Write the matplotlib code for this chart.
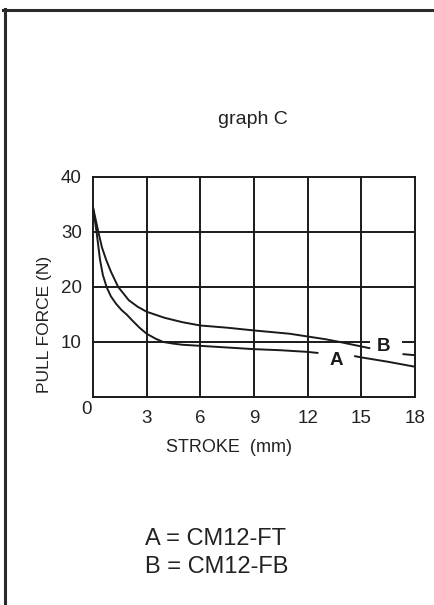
import matplotlib.pyplot as plt
from matplotlib.lines import Line2D

plt.rcParams["font.family"] = ["Liberation Sans", "DejaVu Sans"]

# Curve A (CM12-FT); split where the "A" label sits
stroke_a1 = [0, 0.2, 0.39, 0.55, 0.76, 1.0, 1.3, 1.6, 1.88, 2.2, 2.6, 3.0, 3.5, 3.93, 4.5, 5.0, 6.0, 7.5, 9.0, 10.5, 12.0, 12.6]
force_a1 = [34.5, 30, 25, 22.2, 20, 18.3, 16.9, 15.8, 15.0, 13.9, 12.6, 11.5, 10.6, 10.0, 9.7, 9.5, 9.3, 9.0, 8.7, 8.5, 8.2, 8.0]
stroke_a2 = [14.6, 15.0, 16.5, 18.0]
force_a2 = [7.45, 7.2, 6.4, 5.5]

# Curve B (CM12-FB); split where the "B" label sits
stroke_b1 = [0, 0.3, 0.5, 0.73, 1.0, 1.41, 2.0, 2.5, 3.0, 4.0, 5.0, 6.0, 7.5, 9.0, 10.0, 11.0, 12.0, 13.0, 13.8, 15.5]
force_b1 = [34.5, 30, 27.2, 25, 22.8, 20, 17.6, 16.4, 15.5, 14.4, 13.6, 13.0, 12.6, 12.1, 11.8, 11.5, 11.0, 10.5, 10.0, 8.85]
stroke_b2 = [17.3, 18.0]
force_b2 = [7.8, 7.6]

x_ticks = [3, 6, 9, 12, 15, 18]
y_ticks = [10, 20, 30, 40]
legend_lines = ["A = CM12-FT", "B = CM12-FB"]

W, H = 435, 605
fig = plt.figure(figsize=(W / 100, H / 100), dpi=100)
fig.patch.set_facecolor("white")

ax = fig.add_axes([93 / W, 1 - 397 / H, 322 / W, 220 / H])
ax.set_xlim(0, 18)
ax.set_ylim(0, 40)

lc = "#1a1a1a"
tc = "#222222"
lw = 1.4
# grid drawn by hand, the 10 N line is broken for the B label
ax.vlines(x_ticks[:-1], 0, 40, color=lc, lw=lw, zorder=1)
ax.hlines([20, 30], 0, 18, color=lc, lw=lw, zorder=1)
ax.hlines(10, 0, 15.5, color=lc, lw=lw, zorder=1)
ax.hlines(10, 17.3, 18, color=lc, lw=lw, zorder=1)

for xs, ys in [(stroke_a1, force_a1), (stroke_a2, force_a2),
               (stroke_b1, force_b1), (stroke_b2, force_b2)]:
    ax.plot(xs, ys, color=lc, lw=lw, solid_capstyle="butt", zorder=2)

ax.text(13.6, 6.7, "A", fontsize=13.5, fontweight="bold", ha="center", va="center", color=lc)
ax.text(16.25, 9.1, "B", fontsize=13.5, fontweight="bold", ha="center", va="center", color=lc)

for s in ax.spines.values():
    s.set_color(lc)
    s.set_linewidth(lw)

ax.set_xticks(x_ticks)
ax.set_xticklabels([str(v) for v in x_ticks])
ax.set_yticks(y_ticks)
ax.set_yticklabels([str(v) for v in y_ticks])
ax.tick_params(axis="both", length=0, labelsize=13.5, colors=tc)
ax.tick_params(axis="x", pad=9.5)
ax.tick_params(axis="y", pad=8)

# origin label sits off the corner
fig.text(87 / W, 1 - 409 / H, "0", fontsize=13.5, ha="center", va="center", color=tc)

fig.text(253 / W, 1 - 120 / H, "graph C", fontsize=14, ha="center", va="center", color=tc)
fig.text(229 / W, 1 - 447 / H, "STROKE  (mm)", fontsize=13, ha="center", va="center", color=tc)
fig.text(45 / W, 1 - 324 / H, "PULL FORCE (N)", fontsize=12.5, rotation=90,
         ha="center", va="center", color=tc)

fig.text(145 / W, 1 - 539 / H, legend_lines[0], fontsize=17, ha="left", va="center", color=tc)
fig.text(145 / W, 1 - 567 / H, legend_lines[1], fontsize=17, ha="left", va="center", color=tc)

# page frame: only the top and left edges show
fig.add_artist(Line2D([3 / W, 1], [1 - 9.5 / H] * 2, color="#2a2a2a", lw=2.2,
                      transform=fig.transFigure))
fig.add_artist(Line2D([5 / W] * 2, [0, 1 - 8.5 / H], color="#2a2a2a", lw=2.2,
                      transform=fig.transFigure))

fig.savefig("out.png", dpi=100)
